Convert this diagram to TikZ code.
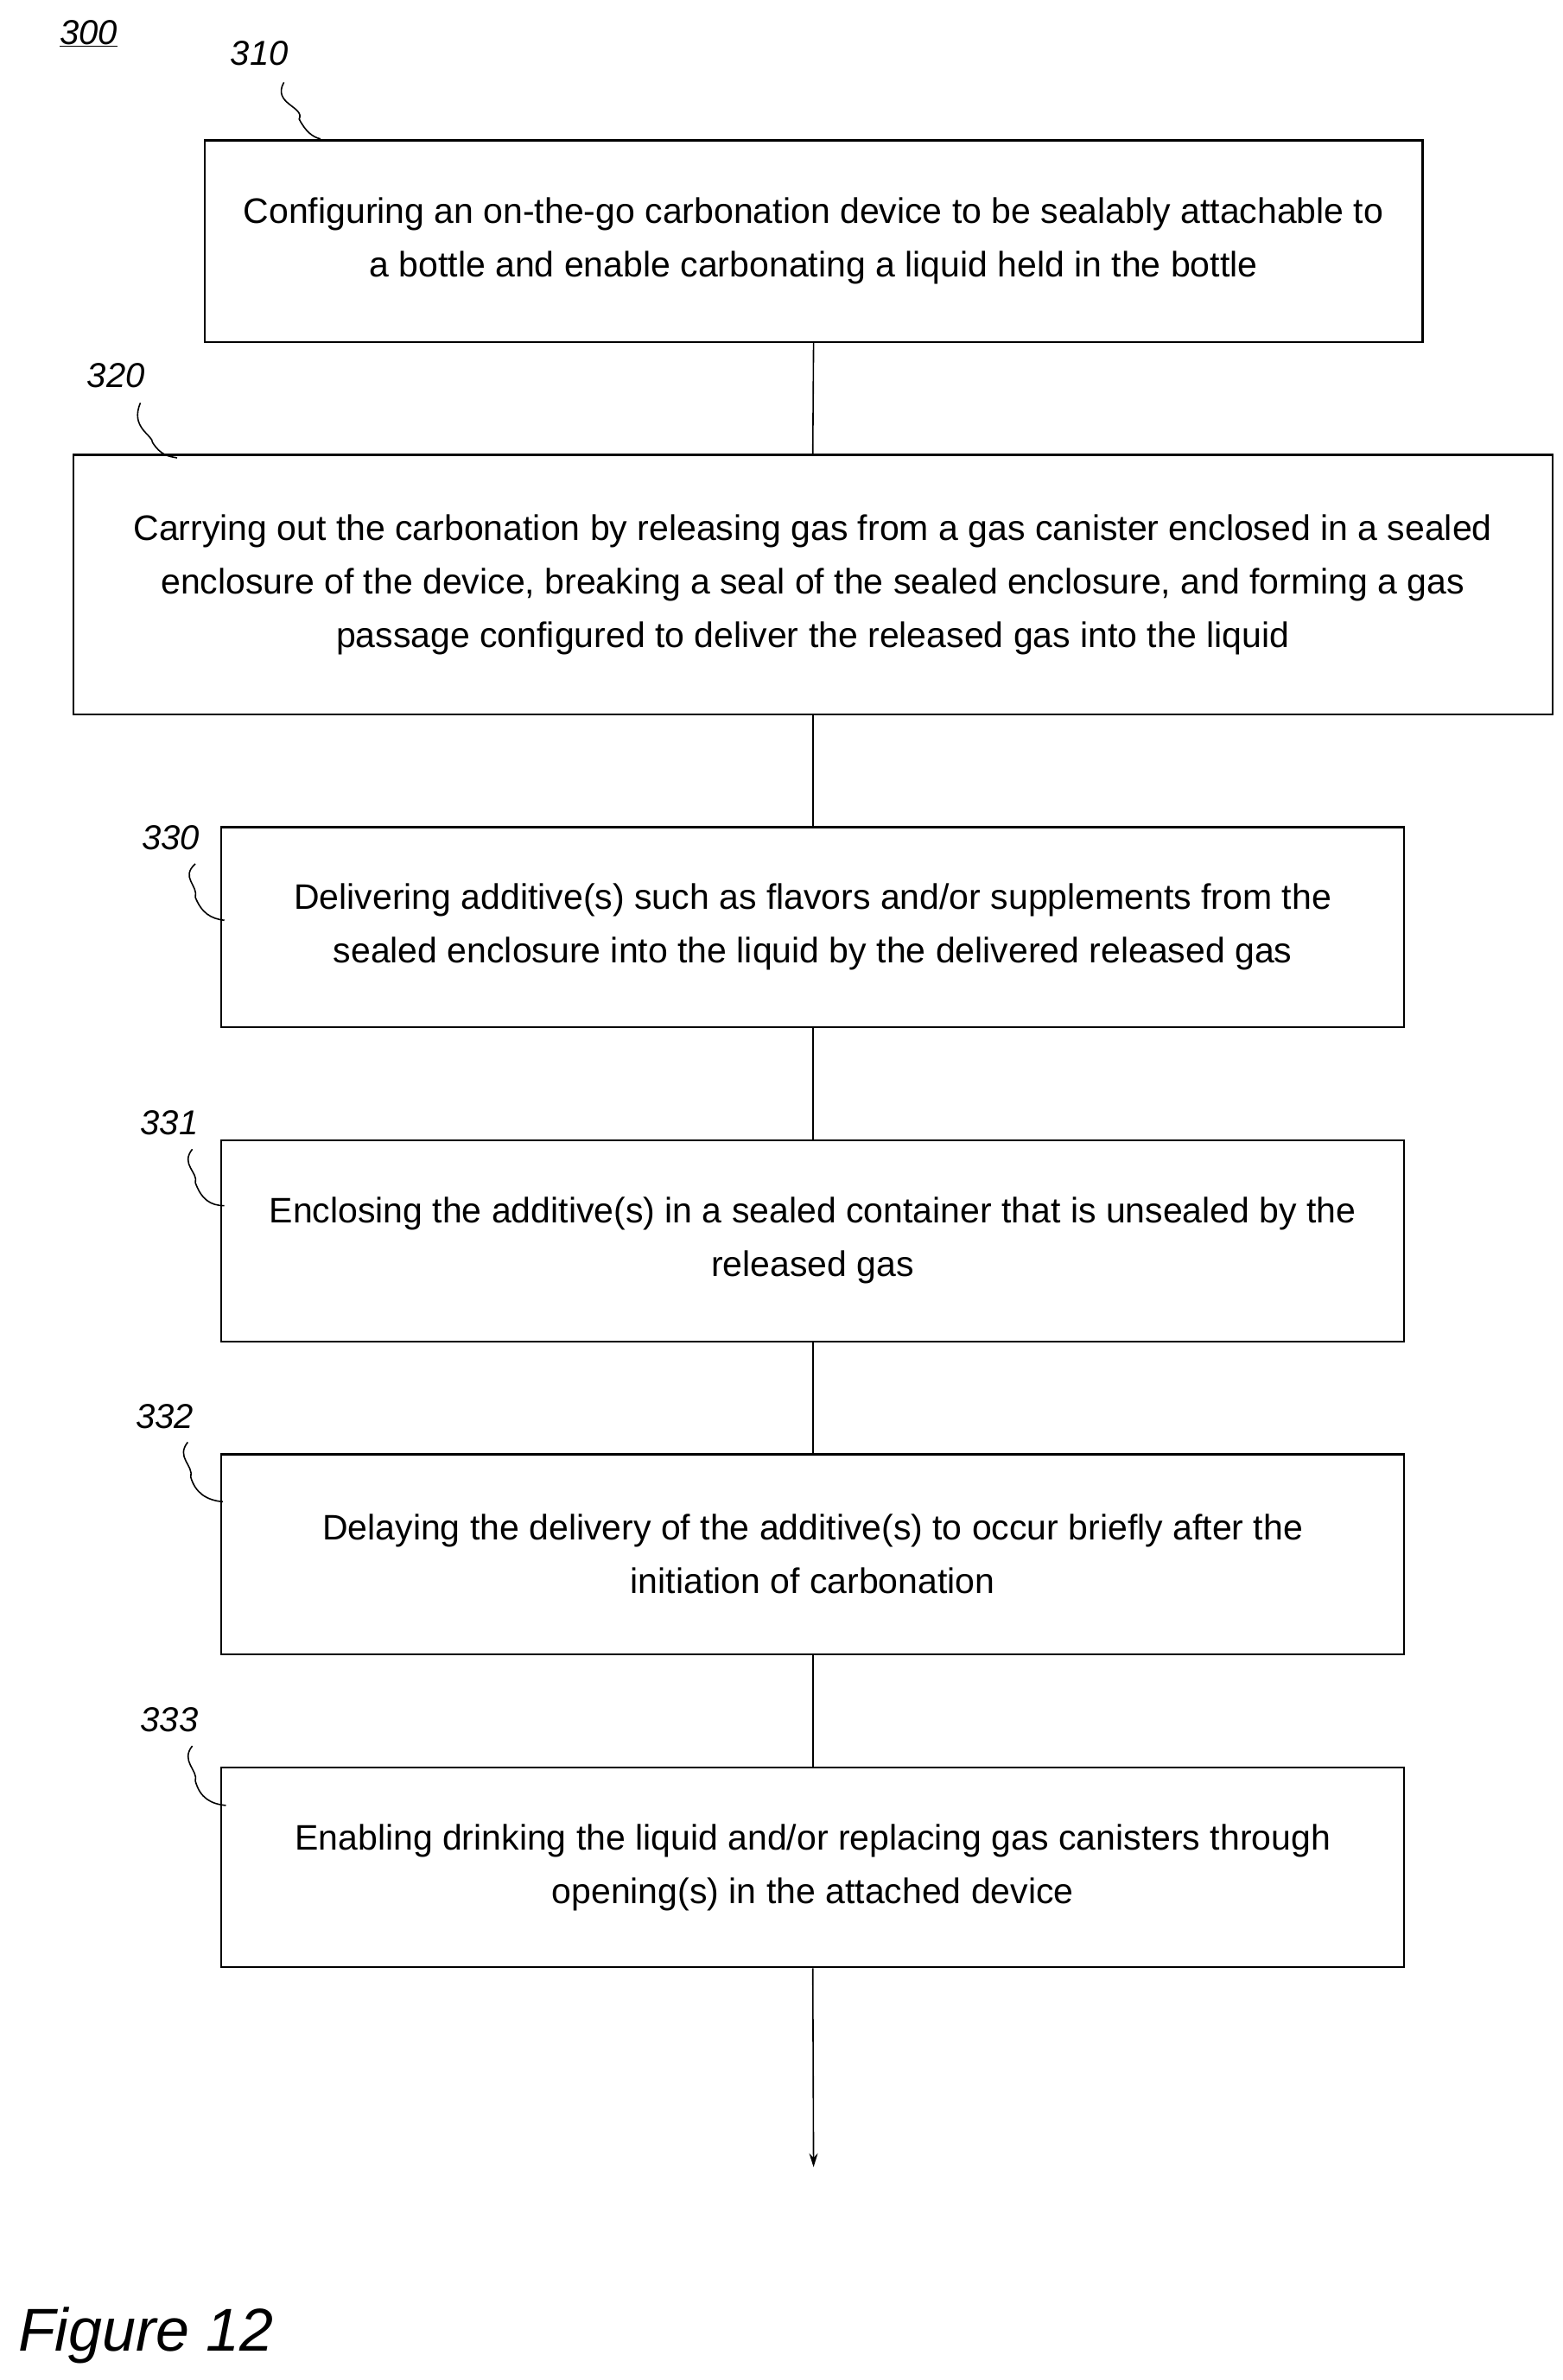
\documentclass[tikz,border=0pt]{standalone}
\usetikzlibrary{arrows.meta}
\usepackage{fontspec}
\setmainfont{Liberation Sans}
\begin{document}
\begin{tikzpicture}[x=1.7666pt,y=-1.7666pt,
  box/.style={draw,line width=2.2pt,inner sep=0,align=center,font=\fontsize{41}{62}\selectfont},
  lab/.style={font=\fontsize{40}{48}\selectfont\itshape},
  con/.style={line width=1.6pt},
  lead/.style={line width=1.6pt}]
\useasboundingbox (0,0) rectangle (1024,1559.5);
\node[box,minimum width=798*1.7666pt,minimum height=132*1.7666pt] (b310) at (533,158) {Configuring an on-the-go carbonation device to be sealably attachable to\\a bottle and enable carbonating a liquid held in the bottle};
\node[box,minimum width=969*1.7666pt,minimum height=170*1.7666pt] (b320) at (532.5,383) {Carrying out the carbonation by releasing gas from a gas canister enclosed in a sealed\\enclosure of the device, breaking a seal of the sealed enclosure, and forming a gas\\passage configured to deliver the released gas into the liquid};
\node[box,minimum width=775*1.7666pt,minimum height=131*1.7666pt] (b330) at (532.5,607.5) {Delivering additive(s) such as flavors and/or supplements from the\\sealed enclosure into the liquid by the delivered released gas};
\node[box,minimum width=775*1.7666pt,minimum height=132*1.7666pt] (b331) at (532.5,813) {Enclosing the additive(s) in a sealed container that is unsealed by the\\released gas};
\node[box,minimum width=775*1.7666pt,minimum height=131*1.7666pt] (b332) at (532.5,1018.5) {Delaying the delivery of the additive(s) to occur briefly after the\\initiation of carbonation};
\node[box,minimum width=775*1.7666pt,minimum height=131*1.7666pt] (b333) at (532.5,1223.5) {Enabling drinking the liquid and/or replacing gas canisters through\\opening(s) in the attached device};
\coordinate (end) at (533,1420);
\draw[con] (b310.south) -- (b320.north);
\draw[con] (b320.south) -- (b330.north);
\draw[con] (b330.south) -- (b331.north);
\draw[con] (b331.south) -- (b332.north);
\draw[con] (b332.south) -- (b333.north);
\draw[con,-{Stealth[length=16pt,width=10pt]}] (b333.south) -- (end);
\node[lab] (l300) at (58,22) {\underline{300}};
\node[lab] (l310) at (170,35) {310};
\node[lab] (l320) at (76,246) {320};
\node[lab] (l330) at (112,549) {330};
\node[lab] (l331) at (111,736) {331};
\node[lab] (l332) at (108,928) {332};
\node[lab] (l333) at (111,1127) {333};
\draw[lead] (186,54) .. controls (178,68) and (200,70) .. (196,78) .. controls (200,86) and (205,90) .. (210,91);
\draw[lead] (92,264) .. controls (85,280) and (100,285) .. (100,290) .. controls (105,298) and (110,299) .. (116,300);
\draw[lead] (128,566) .. controls (118,575) and (130,580) .. (128,588) .. controls (132,598) and (138,602) .. (147,603);
\draw[lead] (126,753) .. controls (118,763) and (130,768) .. (128,775) .. controls (132,786) and (138,790) .. (147,790);
\draw[lead] (123,945) .. controls (115,955) and (127,960) .. (125,968) .. controls (128,978) and (135,983) .. (146,984);
\draw[lead] (126,1144) .. controls (118,1154) and (130,1160) .. (128,1167) .. controls (131,1178) and (138,1182) .. (148,1183);
\node[font=\fontsize{70}{80}\selectfont\itshape,anchor=west] (fig) at (10,1530) {Figure 12};
\end{tikzpicture}
\end{document}
